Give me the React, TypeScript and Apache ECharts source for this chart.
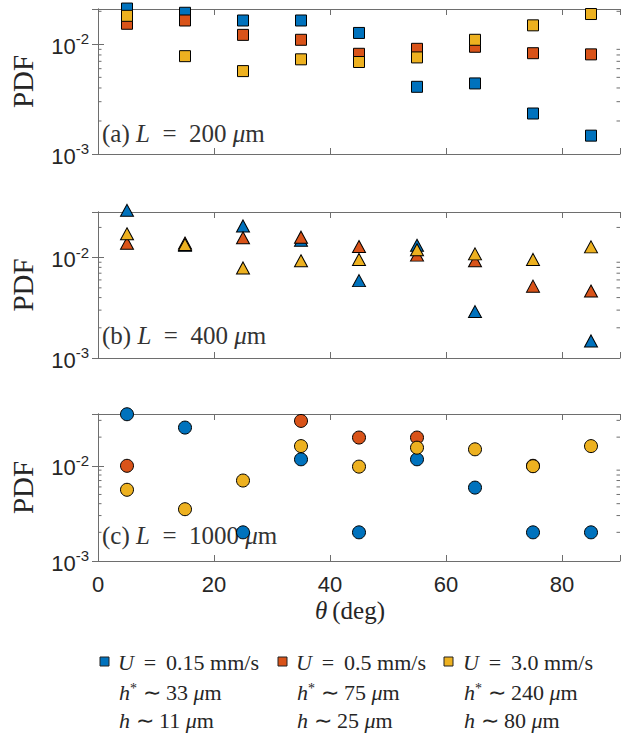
import React, { useEffect, useRef } from 'react';
import * as echarts from 'echarts';

// ---------- data ----------
const thetas = [5, 15, 25, 35, 45, 55, 65, 75, 85];

// (a) L = 200 um (squares)
const aBlue = [0.0212, 0.0194, 0.0165, 0.0165, 0.0127, 0.0041, 0.0044, 0.00234, 0.00147];
const aRed = [0.0154, 0.0165, 0.0122, 0.011, 0.0082, 0.0091, 0.0095, 0.0083, 0.0081];
const aYellow = [0.0182, 0.0078, 0.0057, 0.0073, 0.0069, 0.0076, 0.011, 0.0149, 0.0189];

// (b) L = 400 um (triangles)
const bBlue = [0.0296, 0.0133, 0.0207, 0.0149, 0.0059, 0.0133, 0.0029, null, 0.00148];
const bRed = [0.0139, 0.014, 0.0158, 0.016, 0.0129, 0.0106, 0.0093, 0.0052, 0.00465];
const bYellow = [0.0173, 0.0135, 0.0079, 0.0093, 0.0096, 0.012, 0.0109, 0.0096, 0.0128];

// (c) L = 1000 um (circles)
const cBlue = [0.0348, 0.0252, 0.002, 0.0117, 0.002, 0.0117, 0.0059, 0.002, 0.002];
const cRed = [0.01, null, null, 0.0296, 0.0198, 0.0198, null, 0.01, null];
const cYellow = [0.0056, 0.0035, 0.007, 0.0161, 0.0098, 0.0155, 0.0149, 0.0099, 0.0161];

const panelMax = [0.021, 0.0285, 0.035];
const panelMin = 0.001;
const xTickValues = [0, 20, 40, 60, 80];
const minorTicksA = [0.002, 0.003, 0.004, 0.005, 0.006, 0.007, 0.008, 0.009, 0.02];
const minorTicksB = [0.002, 0.003, 0.004, 0.005, 0.006, 0.007, 0.008, 0.009, 0.02];
const minorTicksC = [0.002, 0.003, 0.004, 0.005, 0.006, 0.007, 0.008, 0.009, 0.02, 0.03];

const panelLabels = [
  { tag: '(a) ', len: '200' },
  { tag: '(b) ', len: '400' },
  { tag: '(c) ', len: '1000' },
];
const legendU = ['0.15', '0.5', '3.0'];
const legendHstar = ['33', '75', '240'];
const legendH = ['11', '25', '80'];

const colors = ['#0072BD', '#D95319', '#EDB120'];

// ---------- layout ----------
const GRID_LEFT = 98;
const GRID_WIDTH = 522;
const gridTops = [9, 212, 414];
const gridHeights = [145, 146, 147];
const axisColor = '#6e6e6e';
const labelColor = '#262626';
const SANS = '"Liberation Sans", Arial, Helvetica, sans-serif';
const SERIF = '"Liberation Serif", "Times New Roman", serif';

export default function App() {
  const ref = useRef<HTMLDivElement>(null);

  useEffect(() => {
    if (!ref.current) return;
    const chart = echarts.init(ref.current, null, { renderer: 'svg' });

    const panels = [
      { data: [aBlue, aRed, aYellow], symbol: 'rect', size: 11, minor: minorTicksA },
      { data: [bBlue, bRed, bYellow], symbol: 'triangle', size: [13, 12], minor: minorTicksB },
      { data: [cBlue, cRed, cYellow], symbol: 'circle', size: 13, minor: minorTicksC },
    ];

    const grids: any[] = [];
    const xAxes: any[] = [];
    const yAxes: any[] = [];
    const series: any[] = [];

    const yFmt = (v: number) => {
      const l = Math.log10(v);
      if (Math.abs(l - Math.round(l)) > 1e-6) return '';
      return `{b|10}{s|${Math.round(l)}}`;
    };

    panels.forEach((p, i) => {
      grids.push({
        left: GRID_LEFT,
        width: GRID_WIDTH,
        top: gridTops[i],
        height: gridHeights[i],
        show: false,
      });
      const xBase = {
        type: 'value',
        gridIndex: i,
        min: 0,
        max: 90,
        interval: 20,
        splitLine: { show: false },
        axisLine: { show: true, lineStyle: { color: axisColor, width: 1 } },
        axisTick: { show: true, inside: true, length: 6, lineStyle: { color: axisColor } },
      };
      xAxes.push({
        ...xBase,
        position: 'bottom',
        axisLabel: {
          show: i === 2,
          margin: 12,
          color: labelColor,
          fontFamily: SANS,
          fontSize: 22,
          formatter: (v: number) => (xTickValues.indexOf(v) >= 0 ? String(v) : ''),
        },
      });
      xAxes.push({ ...xBase, position: 'top', axisLabel: { show: false } });

      const yBase = {
        type: 'log',
        logBase: 10,
        gridIndex: i,
        min: panelMin,
        max: panelMax[i],
        splitLine: { show: false },
        axisLine: { show: true, lineStyle: { color: axisColor, width: 1 } },
        axisTick: { show: true, inside: true, length: 6, lineStyle: { color: axisColor } },
      };
      yAxes.push({
        ...yBase,
        position: 'left',
        name: 'PDF',
        nameLocation: 'middle',
        nameGap: 61,
        nameTextStyle: { fontFamily: SERIF, fontSize: 29, color: labelColor },
        axisLabel: {
          show: true,
          margin: 9,
          color: labelColor,
          formatter: yFmt,
          rich: {
            b: { fontFamily: SANS, fontSize: 22, color: labelColor, lineHeight: 26, verticalAlign: 'bottom' },
            s: { fontFamily: SANS, fontSize: 15, color: labelColor, lineHeight: 26, verticalAlign: 'top', padding: [0, 0, 6, 0] },
          },
        },
      });
      yAxes.push({ ...yBase, position: 'right', axisLabel: { show: false } });

      // minor ticks on the log axes (left and right)
      series.push({
        type: 'custom',
        xAxisIndex: 2 * i,
        yAxisIndex: 2 * i,
        silent: true,
        clip: false,
        data: p.minor.map((v) => [0, v]),
        renderItem: (params: any, api: any) => {
          const v = api.value(1);
          const pl = api.coord([0, v]);
          const pr = api.coord([90, v]);
          const st = { stroke: axisColor, lineWidth: 1 };
          return {
            type: 'group',
            children: [
              { type: 'line', shape: { x1: pl[0], y1: pl[1], x2: pl[0] + 3.5, y2: pl[1] }, style: st },
              { type: 'line', shape: { x1: pr[0], y1: pr[1], x2: pr[0] - 3.5, y2: pr[1] }, style: st },
            ],
          };
        },
      });

      p.data.forEach((vals, c) => {
        series.push({
          type: 'scatter',
          xAxisIndex: 2 * i,
          yAxisIndex: 2 * i,
          clip: false,
          symbol: p.symbol,
          symbolSize: p.size,
          itemStyle: { color: colors[c], borderColor: '#000', borderWidth: 1, opacity: 1 },
          data: thetas
            .map((t, k) => (vals[k] == null ? null : [t, vals[k]]))
            .filter((d) => d !== null),
          z: 3 + c,
        });
      });
    });

    const graphics: any[] = [];
    const labelCenters = [136, 338, 538];
    panelLabels.forEach((pl, i) => {
      graphics.push({
        type: 'text',
        left: 102,
        top: labelCenters[i] - 15,
        silent: true,
        style: {
          text: `{n|${pl.tag}}{i|L}{n|\u2002=\u2002${pl.len} }{i|μ}{n|m}`,
          rich: {
            n: { fontFamily: SERIF, fontSize: 25, fill: '#333' },
            i: { fontFamily: SERIF, fontSize: 25, fontStyle: 'italic', fill: '#333' },
          },
        },
      });
    });

    // x axis title
    graphics.push({
      type: 'text',
      left: 315,
      top: 598,
      silent: true,
      style: {
        text: '{i|θ}{n|\u2009(deg)}',
        rich: {
          n: { fontFamily: SERIF, fontSize: 25, fill: labelColor },
          i: { fontFamily: SERIF, fontSize: 25, fontStyle: 'italic', fill: labelColor },
        },
      },
    });

    // legend
    const squareX = [100, 278, 444];
    const textX = [118, 296, 463];
    const rowY = [662, 692, 720];
    const rich = {
      n: { fontFamily: SERIF, fontSize: 22, fill: labelColor },
      i: { fontFamily: SERIF, fontSize: 22, fontStyle: 'italic', fill: labelColor },
      sup: { fontFamily: SERIF, fontSize: 14, fill: labelColor, verticalAlign: 'top', padding: [0, 0, 8, 0] },
    };
    for (let c = 0; c < 3; c++) {
      graphics.push({
        type: 'rect',
        shape: { x: squareX[c], y: rowY[0] - 5, width: 9, height: 9 },
        style: { fill: colors[c], stroke: '#222', lineWidth: 1 },
        silent: true,
      });
      graphics.push({
        type: 'text',
        x: textX[c],
        y: rowY[0],
        silent: true,
        style: {
          text: `{i|U}{n| \u2009= \u2009${legendU[c]} mm/s}`,
          rich,
          verticalAlign: 'middle',
        },
      });
      graphics.push({
        type: 'text',
        x: textX[c] + 1,
        y: rowY[1],
        silent: true,
        style: {
          text: `{i|h}{sup|*}{n| ∼ ${legendHstar[c]} }{i|μ}{n|m}`,
          rich,
          verticalAlign: 'middle',
        },
      });
      graphics.push({
        type: 'text',
        x: textX[c] + 1,
        y: rowY[2],
        silent: true,
        style: {
          text: `{i|h}{n| ∼ ${legendH[c]} }{i|μ}{n|m}`,
          rich,
          verticalAlign: 'middle',
        },
      });
    }

    chart.setOption({
      animation: false,
      backgroundColor: '#ffffff',
      grid: grids,
      xAxis: xAxes,
      yAxis: yAxes,
      series,
      graphic: graphics,
    });

    return () => chart.dispose();
  }, []);

  return (
    <div
      ref={ref}
      style={{ position: 'fixed', left: 0, top: 0, width: 636, height: 734, background: '#fff' }}
    />
  );
}
